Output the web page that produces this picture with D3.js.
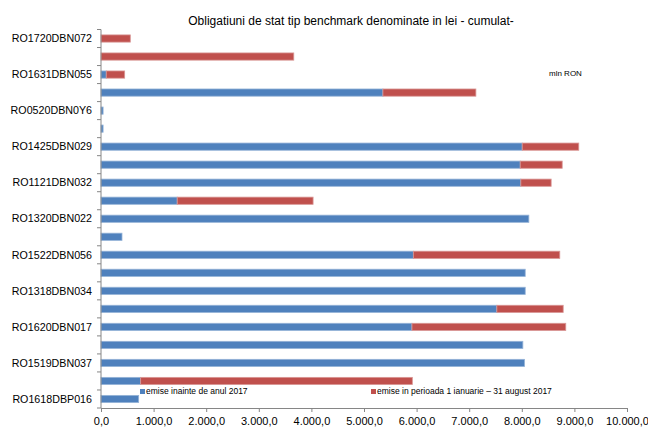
<!DOCTYPE html>
<head>
<meta charset="utf-8">
<script src="https://d3js.org/d3.v7.min.js"></script>
</head>
<style>
body { margin: 0; background: #fff; }
text { font-family: "Liberation Sans", Arial, sans-serif; fill: #000; }
.axis path, .axis line { stroke: #868686; }
</style>
<body>
<script>
// 21 bonds, only every other one is labelled on the chart
var labels = ["RO1720DBN072", "", "RO1631DBN055", "", "RO0520DBN0Y6", "",
  "RO1425DBN029", "", "RO1121DBN032", "", "RO1320DBN022", "",
  "RO1522DBN056", "", "RO1318DBN034", "", "RO1620DBN017", "",
  "RO1519DBN037", "", "RO1618DBP016"];
// mln RON
var before2017 = [0, 0, 100, 5360, 40, 40, 8008, 7970, 7982, 1449, 8134, 399,
  5938, 8065, 8065, 7526, 5912, 8020, 8052, 754, 716];
var in2017 = [557, 3665, 350, 1767, 0, 0, 1075, 798, 576, 2583, 0, 0,
  2784, 0, 0, 1261, 2924, 0, 0, 5165, 0];
var xTicks = [0, 1000, 2000, 3000, 4000, 5000, 6000, 7000, 8000, 9000, 10000];
var seriesNames = ["emise inainte de anul 2017", "emise in perioada 1 ianuarie \u2013 31 august 2017"];
var colors = ["#4F81BD", "#C0504D"];
var strokes = ["#95B3D7", "#D99694"];

var margin = {top: 29.5, right: 21, bottom: 19, left: 101},
    width = 648 - margin.left - margin.right,
    height = 427 - margin.top - margin.bottom;

var svg = d3.select("body").append("svg")
    .attr("width", 648)
    .attr("height", 427);

svg.append("text")
    .attr("x", 351).attr("y", 25)
    .attr("text-anchor", "middle")
    .style("font-size", "12px")
    .text("Obligatiuni de stat tip benchmark denominate in lei - cumulat-");

svg.append("text")
    .attr("x", 549).attr("y", 76)
    .style("font-size", "8px")
    .text("mln RON");

var g = svg.append("g")
    .attr("transform", "translate(" + margin.left + "," + margin.top + ")");

var idx = d3.range(labels.length);
var x = d3.scaleLinear().domain([0, 10000]).range([0, width]);
var y = d3.scaleBand().domain(idx).range([0, height]).paddingInner(0.6).paddingOuter(0.3);
var yb = d3.scaleBand().domain(idx).range([0, height]);

var ro = d3.formatLocale({decimal: ",", thousands: ".", grouping: [3], currency: ["", ""]});
var fmt = ro.format(",.1f");

var data = idx.map(function(i) {
  return {i: i, a: before2017[i], b: in2017[i]};
});
var stacked = d3.stack().keys(["a", "b"])(data);

g.selectAll(".series")
    .data(stacked)
  .enter().append("g")
    .attr("fill", function(d, k) { return colors[k]; })
    .attr("stroke", function(d, k) { return strokes[k]; })
    .attr("stroke-width", 0.8)
  .selectAll("rect")
    .data(function(d) { return d.filter(function(p) { return p[1] - p[0] > 0; }); })
  .enter().append("rect")
    .attr("x", function(p) { return x(p[0]); })
    .attr("width", function(p) { return x(p[1]) - x(p[0]); })
    .attr("y", function(p) { return yb(p.data.i) + yb.bandwidth() / 2 - 3.6; })
    .attr("height", 7.2);

// x axis
var xAxis = g.append("g")
    .attr("class", "axis")
    .attr("transform", "translate(0," + height + ")")
    .call(d3.axisBottom(x).tickValues(xTicks).tickFormat(fmt).tickSizeInner(4).tickSizeOuter(0));
xAxis.selectAll("text").style("font-size", "11px").attr("dy", "0.9em");

// y axis: ticks between categories
var yAxis = g.append("g").attr("class", "axis");
yAxis.append("line")
    .attr("x1", 0).attr("x2", 0)
    .attr("y1", 0).attr("y2", height);
yAxis.selectAll(".tk")
    .data(d3.range(labels.length + 1))
  .enter().append("line")
    .attr("x1", -4).attr("x2", 0)
    .attr("y1", function(k) { return k * yb.step(); })
    .attr("y2", function(k) { return k * yb.step(); });
yAxis.selectAll(".lbl")
    .data(idx.filter(function(i) { return labels[i] !== ""; }))
  .enter().append("text")
    .attr("x", -9)
    .attr("y", function(i) { return yb(i) + yb.bandwidth() / 2; })
    .attr("dy", "0.35em")
    .attr("text-anchor", "end")
    .style("font-size", "10.7px")
    .text(function(i) { return labels[i]; });

// legend inside the plot
var legendX = [140, 371];
var legend = svg.selectAll(".legend")
    .data(seriesNames)
  .enter().append("g")
    .attr("transform", function(d, k) { return "translate(" + legendX[k] + ",389)"; });
legend.append("rect")
    .attr("width", 5).attr("height", 5)
    .attr("fill", function(d, k) { return colors[k]; });
legend.append("text")
    .attr("x", 6).attr("y", 5)
    .style("font-size", "8.5px")
    .text(function(d) { return d; });
</script>
</body>
